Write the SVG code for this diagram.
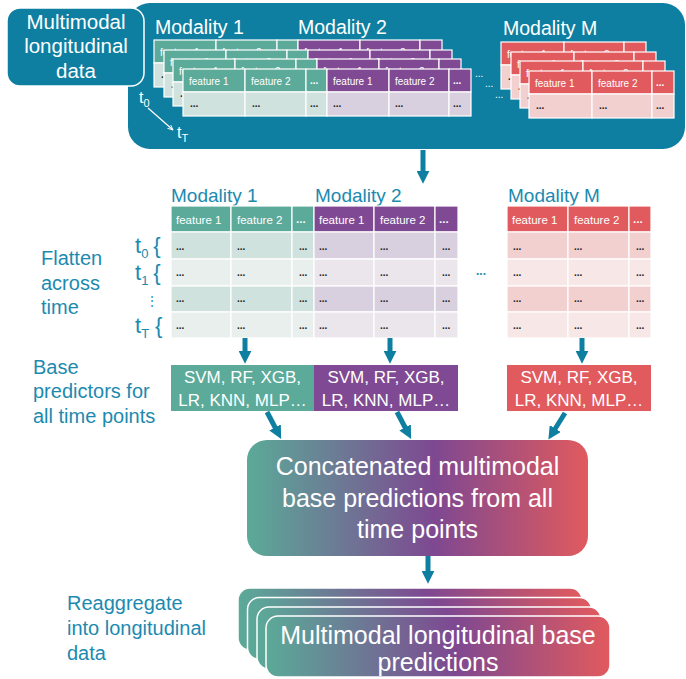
<svg xmlns="http://www.w3.org/2000/svg" width="686" height="679" viewBox="0 0 686 679">
<style>
text{font-family:'Liberation Sans',Arial,sans-serif}
.hg{fill:#5BAA9A}.hp{fill:#7F4A93}.hr{fill:#E15A5E}
.dg{fill:#D0E2DE}.dp{fill:#D9D0DF}.dr{fill:#F2D0D0}
.lg{fill:#E8EFED}.lp{fill:#EAE6EC}.lr{fill:#F8E7E7}
.cell rect{stroke:#fff;stroke-width:1.2}
.ht{fill:#fff;font-size:10px}
.htm{fill:#fff;font-size:11.5px}
.dt{fill:#222;font-size:10px;font-weight:bold}
.wl{fill:#fff}
.lab{fill:#1C8AAF;font-size:20px}
.mod{fill:#1C8AAF;font-size:19px}
.arr{stroke:#0E7FA1;stroke-width:5;fill:none;marker-end:url(#ah)}
.pred{fill:#fff;font-size:17px;text-anchor:middle}
</style>
<defs>
<linearGradient id="grad" x1="0" y1="0" x2="1" y2="0">
<stop offset="0" stop-color="#5BAA98"/>
<stop offset="0.55" stop-color="#7E4891"/>
<stop offset="1" stop-color="#E15A5E"/>
</linearGradient>
<marker id="ah" viewBox="0 0 10 10" refX="4" refY="5" markerWidth="13" markerHeight="13" markerUnits="userSpaceOnUse" orient="auto">
<path d="M0,0 L10,5 L0,10 z" fill="#0E7FA1"/>
</marker>
<marker id="ahw" viewBox="0 0 10 10" refX="9" refY="5" markerWidth="6" markerHeight="6" markerUnits="userSpaceOnUse" orient="auto">
<path d="M0,1 L9,5 L0,9" fill="none" stroke="#fff" stroke-width="1.5"/>
</marker>
<g id="layer12" class="cell">
<rect class="hg" x="0" y="0" width="62" height="23"/>
<rect class="hg" x="62" y="0" width="61" height="23"/>
<rect class="hg" x="123" y="0" width="21" height="23"/>
<rect class="hp" x="144" y="0" width="62" height="23"/>
<rect class="hp" x="206" y="0" width="60" height="23"/>
<rect class="hp" x="266" y="0" width="22" height="23"/>
<rect class="dg" x="0" y="23" width="62" height="24"/>
<rect class="dg" x="62" y="23" width="61" height="24"/>
<rect class="dg" x="123" y="23" width="21" height="24"/>
<rect class="dp" x="144" y="23" width="62" height="24"/>
<rect class="dp" x="206" y="23" width="60" height="24"/>
<rect class="dp" x="266" y="23" width="22" height="24"/>
<text class="ht" x="6" y="16">feature 1</text>
<text class="ht" x="68" y="16">feature 2</text>
<text class="ht" x="127" y="15" font-weight="bold">...</text>
<text class="ht" x="150" y="16">feature 1</text>
<text class="ht" x="212" y="16">feature 2</text>
<text class="ht" x="270" y="15" font-weight="bold">...</text>
<text class="dt" x="7" y="38">...</text>
<text class="dt" x="69" y="38">...</text>
<text class="dt" x="127" y="38">...</text>
<text class="dt" x="150" y="38">...</text>
<text class="dt" x="212" y="38">...</text>
<text class="dt" x="270" y="38">...</text>
</g>
<g id="layerM" class="cell">
<rect class="hr" x="0" y="0" width="63" height="23"/>
<rect class="hr" x="63" y="0" width="60" height="23"/>
<rect class="hr" x="123" y="0" width="22" height="23"/>
<rect class="dr" x="0" y="23" width="63" height="24"/>
<rect class="dr" x="63" y="23" width="60" height="24"/>
<rect class="dr" x="123" y="23" width="22" height="24"/>
<text class="ht" x="6" y="16">feature 1</text>
<text class="ht" x="69" y="16">feature 2</text>
<text class="ht" x="127" y="15" font-weight="bold">...</text>
<text class="dt" x="7" y="38">...</text>
<text class="dt" x="70" y="38">...</text>
<text class="dt" x="127" y="38">...</text>
</g>
</defs>

<g id="input-data">
<rect x="128" y="3" width="557" height="146" rx="22" fill="#0E7FA1"/>
<text class="wl" x="155" y="34" font-size="19.5">Modality 1</text>
<text class="wl" x="298" y="34" font-size="19.5">Modality 2</text>
<text class="wl" x="503" y="35" font-size="19.5">Modality M</text>
<use href="#layer12" x="154" y="40"/>
<use href="#layer12" x="164" y="50"/>
<use href="#layer12" x="173" y="59"/>
<use href="#layer12" x="183" y="69"/>
<use href="#layerM" x="501" y="42"/>
<use href="#layerM" x="511" y="52"/>
<use href="#layerM" x="520" y="61"/>
<use href="#layerM" x="529" y="71"/>
<text class="wl" x="475" y="77" font-size="10">...</text>
<text class="wl" x="485" y="87" font-size="10">...</text>
<text class="wl" x="495" y="98" font-size="10">...</text>
<text class="wl" x="139" y="103" font-size="16">t<tspan font-size="11" dy="4">0</tspan></text>
<line x1="148" y1="108" x2="173" y2="130" stroke="#fff" stroke-width="1.2" marker-end="url(#ahw)"/>
<text class="wl" x="177" y="138" font-size="16">t<tspan font-size="11" dy="4">T</tspan></text>
</g>

<g id="input-label">
<rect x="7" y="8" width="137" height="78" rx="13" fill="#0E7FA1" stroke="#fff" stroke-width="1.5"/>
<text class="wl" font-size="20.5" text-anchor="middle"><tspan x="76" y="29">Multimodal</tspan><tspan x="76" y="53">longitudinal</tspan><tspan x="76" y="78">data</tspan></text>
</g>

<g id="flatten-label">
<text class="lab"><tspan x="41" y="265">Flatten</tspan><tspan x="41" y="290">across</tspan><tspan x="41" y="314">time</tspan></text>
<text fill="#1C8AAF" font-size="22" x="135" y="253">t<tspan font-size="13" dy="5">0</tspan><tspan dy="-5" dx="5">{</tspan></text>
<text fill="#1C8AAF" font-size="22" x="135" y="280">t<tspan font-size="13" dy="5">1</tspan><tspan dy="-5" dx="5">{</tspan></text>
<text fill="#1C8AAF" font-size="12" x="146" y="305">⋮</text>
<text fill="#1C8AAF" font-size="22" x="135" y="333">t<tspan font-size="13" dy="5">T</tspan><tspan dy="-5" dx="6">{</tspan></text>
</g>

<g id="flat-table" class="cell">
<text class="mod" x="171" y="202">Modality 1</text>
<text class="mod" x="315" y="202">Modality 2</text>
<text class="mod" x="508" y="202">Modality M</text>
<rect class="hg" x="171" y="206" width="60" height="26"/>
<rect class="hg" x="231" y="206" width="61" height="26"/>
<rect class="hg" x="292" y="206" width="22" height="26"/>
<rect class="hp" x="314" y="206" width="60" height="26"/>
<rect class="hp" x="374" y="206" width="61" height="26"/>
<rect class="hp" x="435" y="206" width="23" height="26"/>
<rect class="hr" x="507" y="206" width="61" height="26"/>
<rect class="hr" x="568" y="206" width="61" height="26"/>
<rect class="hr" x="629" y="206" width="22" height="26"/>
<rect class="dg" x="171" y="232" width="60" height="27"/><rect class="dg" x="231" y="232" width="61" height="27"/><rect class="dg" x="292" y="232" width="22" height="27"/>
<rect class="dp" x="314" y="232" width="60" height="27"/><rect class="dp" x="374" y="232" width="61" height="27"/><rect class="dp" x="435" y="232" width="23" height="27"/>
<rect class="dr" x="507" y="232" width="61" height="27"/><rect class="dr" x="568" y="232" width="61" height="27"/><rect class="dr" x="629" y="232" width="22" height="27"/>
<rect class="lg" x="171" y="259" width="60" height="27"/><rect class="lg" x="231" y="259" width="61" height="27"/><rect class="lg" x="292" y="259" width="22" height="27"/>
<rect class="lp" x="314" y="259" width="60" height="27"/><rect class="lp" x="374" y="259" width="61" height="27"/><rect class="lp" x="435" y="259" width="23" height="27"/>
<rect class="lr" x="507" y="259" width="61" height="27"/><rect class="lr" x="568" y="259" width="61" height="27"/><rect class="lr" x="629" y="259" width="22" height="27"/>
<rect class="dg" x="171" y="286" width="60" height="26"/><rect class="dg" x="231" y="286" width="61" height="26"/><rect class="dg" x="292" y="286" width="22" height="26"/>
<rect class="dp" x="314" y="286" width="60" height="26"/><rect class="dp" x="374" y="286" width="61" height="26"/><rect class="dp" x="435" y="286" width="23" height="26"/>
<rect class="dr" x="507" y="286" width="61" height="26"/><rect class="dr" x="568" y="286" width="61" height="26"/><rect class="dr" x="629" y="286" width="22" height="26"/>
<rect class="lg" x="171" y="312" width="60" height="26"/><rect class="lg" x="231" y="312" width="61" height="26"/><rect class="lg" x="292" y="312" width="22" height="26"/>
<rect class="lp" x="314" y="312" width="60" height="26"/><rect class="lp" x="374" y="312" width="61" height="26"/><rect class="lp" x="435" y="312" width="23" height="26"/>
<rect class="lr" x="507" y="312" width="61" height="26"/><rect class="lr" x="568" y="312" width="61" height="26"/><rect class="lr" x="629" y="312" width="22" height="26"/>
<text class="htm" x="176" y="224">feature 1</text><text class="htm" x="237" y="224">feature 2</text><text class="htm" x="296" y="223" font-weight="bold">...</text>
<text class="htm" x="319" y="224">feature 1</text><text class="htm" x="380" y="224">feature 2</text><text class="htm" x="439" y="223" font-weight="bold">...</text>
<text class="htm" x="512" y="224">feature 1</text><text class="htm" x="574" y="224">feature 2</text><text class="htm" x="633" y="223" font-weight="bold">...</text>
<g class="dt" font-size="11">
<text x="176" y="250">...</text><text x="237" y="250">...</text><text x="299" y="250">...</text><text x="319" y="250">...</text><text x="380" y="250">...</text><text x="442" y="250">...</text><text x="513" y="250">...</text><text x="574" y="250">...</text><text x="636" y="250">...</text>
<text x="176" y="276">...</text><text x="237" y="276">...</text><text x="299" y="276">...</text><text x="319" y="276">...</text><text x="380" y="276">...</text><text x="442" y="276">...</text><text x="513" y="276">...</text><text x="574" y="276">...</text><text x="636" y="276">...</text>
<text x="176" y="302">...</text><text x="237" y="302">...</text><text x="299" y="302">...</text><text x="319" y="302">...</text><text x="380" y="302">...</text><text x="442" y="302">...</text><text x="513" y="302">...</text><text x="574" y="302">...</text><text x="636" y="302">...</text>
<text x="176" y="329">...</text><text x="237" y="329">...</text><text x="299" y="329">...</text><text x="319" y="329">...</text><text x="380" y="329">...</text><text x="442" y="329">...</text><text x="513" y="329">...</text><text x="574" y="329">...</text><text x="636" y="329">...</text>
</g>
<text x="476" y="275" fill="#1C8AAF" font-size="12" font-weight="bold">...</text>
</g>

<g id="base-label">
<text class="lab"><tspan x="33" y="374">Base</tspan><tspan x="33" y="398">predictors for</tspan><tspan x="33" y="423">all time points</tspan></text>
</g>

<g id="pred-mod1">
<rect class="hg" x="171" y="365" width="143" height="46"/>
<text class="pred"><tspan x="242.5" y="383">SVM, RF, XGB,</tspan><tspan x="242.5" y="406">LR, KNN, MLP…</tspan></text>
</g>
<g id="pred-mod2">
<rect class="hp" x="314" y="365" width="144" height="46"/>
<text class="pred"><tspan x="386" y="383">SVM, RF, XGB,</tspan><tspan x="386" y="406">LR, KNN, MLP…</tspan></text>
</g>
<g id="pred-modM">
<rect class="hr" x="507" y="365" width="144" height="46"/>
<text class="pred"><tspan x="579" y="383">SVM, RF, XGB,</tspan><tspan x="579" y="406">LR, KNN, MLP…</tspan></text>
</g>

<g id="concat">
<rect x="247" y="440" width="341" height="116" rx="20" fill="url(#grad)"/>
<text fill="#fff" font-size="25" text-anchor="middle"><tspan x="417.5" y="475">Concatenated multimodal</tspan><tspan x="417.5" y="507">base predictions from all</tspan><tspan x="417.5" y="538">time points</tspan></text>
</g>

<g id="reagg-label">
<text class="lab"><tspan x="67" y="610">Reaggregate</tspan><tspan x="67" y="635">into longitudinal</tspan><tspan x="67" y="660">data</tspan></text>
</g>

<g id="output">
<rect x="238" y="588" width="344" height="62" rx="12" fill="url(#grad)" stroke="#fff" stroke-width="1.5"/>
<rect x="247.5" y="597.5" width="344" height="62" rx="12" fill="url(#grad)" stroke="#fff" stroke-width="1.5"/>
<rect x="257" y="607" width="344" height="62" rx="12" fill="url(#grad)" stroke="#fff" stroke-width="1.5"/>
<rect x="266" y="616" width="344" height="61" rx="12" fill="url(#grad)" stroke="#fff" stroke-width="1.5"/>
<text fill="#fff" font-size="25" text-anchor="middle"><tspan x="438" y="644">Multimodal longitudinal base</tspan><tspan x="438" y="671">predictions</tspan></text>
</g>

<g id="connectors">
<line class="arr" x1="423" y1="150" x2="423" y2="176"/>
<line class="arr" x1="245" y1="338" x2="245" y2="356"/>
<line class="arr" x1="390" y1="338" x2="390" y2="356"/>
<line class="arr" x1="582" y1="338" x2="582" y2="356"/>
<line class="arr" x1="267" y1="412" x2="277.5" y2="432"/>
<line class="arr" x1="397" y1="412" x2="407.5" y2="432"/>
<line class="arr" x1="565" y1="413" x2="552.5" y2="433"/>
<line class="arr" x1="428" y1="556" x2="428" y2="576"/>
</g>
</svg>
